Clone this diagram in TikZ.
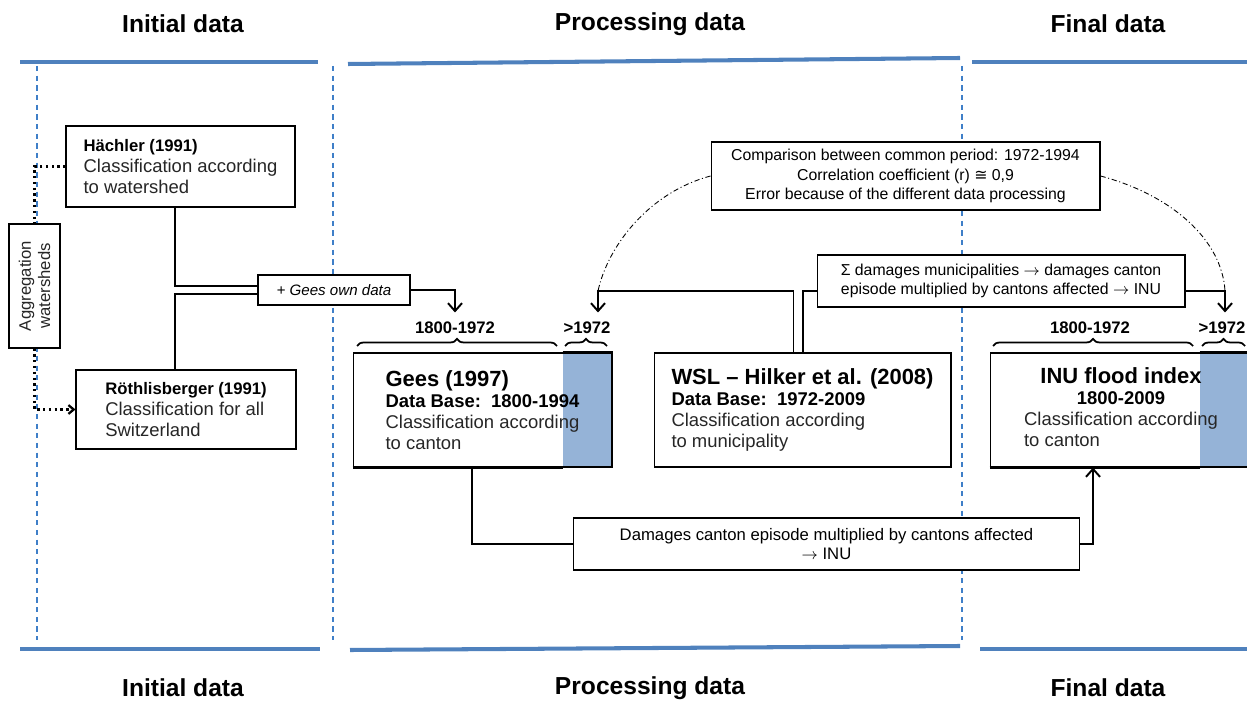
\documentclass[tikz,border=0pt]{standalone}
\usepackage{fontspec}
\setmainfont{Liberation Sans}
\newfontfamily\symfont{DejaVu Sans}
\usetikzlibrary{arrows.meta,decorations.pathreplacing,backgrounds}

\definecolor{bandblue}{HTML}{4F81BD}
\definecolor{fillblue}{HTML}{95B3D7}
\definecolor{sepblue}{HTML}{3F7FC8}

\newcommand{\fsz}[2]{\fontsize{#1}{#2}\selectfont}

\begin{document}
\begin{tikzpicture}[x=0.02cm, y=-0.02cm,
  box/.style={draw, line width=0.6pt, align=left, inner sep=0pt,
    font=\fsz{10.5}{12}, text=black!85},
  wbox/.style={box, fill=white},
  note/.style={draw, fill=white, line width=0.6pt, align=center,
    inner sep=2pt, font=\fsz{9}{11}},
  head/.style={font=\fsz{14}{16}\bfseries},
  yr/.style={font=\fsz{9.5}{11}\bfseries, inner sep=1pt},
  band/.style={bandblue, line width=2.3pt},
  sep/.style={sepblue, line width=0.7pt, dash pattern=on 3pt off 2.5pt},
  conn/.style={line width=1.1pt, >={Straight Barb[length=4.5pt,width=8pt]}},
  dotline/.style={line width=1.3pt, dotted, >={Straight Barb[length=3pt,width=5pt]}},
  dd/.style={line width=0.5pt, dash pattern=on 3pt off 1.5pt on 0.6pt off 1.5pt},
  brc/.style={line width=1pt, decorate, decoration={brace, amplitude=4pt}},
]
\useasboundingbox (0,0) rectangle (1247,702);

% Column headers
\node[head] (hI)  at (183,24)  {Initial data};
\node[head] (hP)  at (650,24)  {Processing data};
\node[head] (hF)  at (1108,24) {Final data};
\node[head] (fI)  at (183,688) {Initial data};
\node[head] (fP)  at (650,688) {Processing data};
\node[head] (fF)  at (1108,688) {Final data};

% Bands and separators
\draw[band] (20,62) -- (318,62);
\draw[band] (348,64) -- (960,58);
\draw[band] (972,62) -- (1247,62);
\draw[band] (20,649) -- (320,649);
\draw[band] (350,650) -- (960,646);
\draw[band] (980,649) -- (1247,649);
\draw[sep] (37,66) -- (37,640);
\draw[sep] (333,66) -- (333,640);
\draw[sep] (962,66) -- (962,640);

% Initial data
\node[wbox, minimum width=4.58cm, minimum height=1.62cm] (hach) at (180.5,166.5)
  {{\fsz{9.5}{12}\bfseries\color{black} Hächler (1991)}\\Classification according\\to watershed};
\node[wbox, minimum width=4.4cm, minimum height=1.58cm] (roth) at (186,409.5)
  {{\fsz{9.5}{12}\bfseries\color{black} Röthlisberger (1991)}\\Classification for all\\Switzerland};
\node[wbox, align=center, rotate=90, minimum width=2.48cm, minimum height=1.02cm,
  font=\fsz{9.5}{11}] (agg) at (34.5,286) {Aggregation\\watersheds};
\node[note, font=\fsz{8.6}{10}\itshape, minimum width=3.04cm, minimum height=0.6cm] (gown)
  at (334,290) {+ Gees own data};

% Processing data
\node[box, minimum width=5.18cm, minimum height=2.28cm] (gees) at (482.5,410)
  {{\fsz{12.5}{15}\bfseries\color{black} Gees (1997)}\\{\bfseries\color{black} Data Base:\ \ 1800-1994}\\Classification according\\to canton};
\node[box, minimum width=5.94cm, minimum height=2.28cm] (wsl) at (802.5,410)
  {{\fsz{12.5}{15}\bfseries\color{black} WSL -- Hilker et al. (2008)}\\{\bfseries\color{black} Data Base:\ \ 1972-2009}\\Classification according\\to municipality};
\node[note, minimum width=7.78cm, minimum height=1.36cm] (comp) at (905.5,176)
  {Comparison between common period: 1972-1994\\Correlation coefficient (r) {\symfont ≅} 0,9\\Error because of the different data processing};
\node[note, minimum width=7.36cm, minimum height=1.04cm] (sig) at (1001,281)
  {Σ damages municipalities $\rightarrow$ damages canton\\episode multiplied by cantons affected $\rightarrow$ INU};
\node[note, font=\fsz{9.5}{11}, minimum width=10.14cm, minimum height=1.04cm] (dmg) at (826.5,544)
  {Damages canton episode multiplied by cantons affected\\$\rightarrow$ INU};

% Final data
\node[box, minimum width=5.24cm, minimum height=2.28cm] (inu) at (1121,410)
  {\begin{tabular}{@{}l@{}}
   \multicolumn{1}{@{}c@{}}{\fsz{12.5}{15}\bfseries\color{black} INU flood index}\\
   \multicolumn{1}{@{}c@{}}{\bfseries\color{black} 1800-2009}\\
   Classification according\\
   to canton
   \end{tabular}};

% Blue parts after 1972
\begin{scope}[on background layer]
\fill[fillblue] ([xshift=-1cm]gees.south east) rectangle (gees.north east);
\fill[fillblue] ([xshift=-1.06cm]inu.south east) rectangle (inu.north east);
\end{scope}
\draw[line width=2pt] (gees.south west) -- ([xshift=-1cm]gees.south east);
\draw[line width=2pt] ([xshift=-1cm]gees.north east) -- (gees.north east);
\draw[line width=2pt] (inu.south west) -- ([xshift=-1.06cm]inu.south east);
\draw[line width=2pt] ([xshift=-1.06cm]inu.north east) -- (inu.north east);

% Periods
\node[yr] (yrA) at (455,328)  {1800-1972};
\node[yr] (yrB) at (587,328)  {>1972};
\node[yr] (yrC) at (1090,328) {1800-1972};
\node[yr] (yrD) at (1222,328) {>1972};
\draw[brc] (357,346) -- (557,346);
\draw[brc] (565,346) -- (607,346);
\draw[brc] (993,346) -- (1193,346);
\draw[brc] (1202,346) -- (1245,346);

% Connectors
\coordinate (cornB) at (598,291);
\coordinate (cornD) at (1225,291);
\draw[dotline] (hach.west) -| (agg.east);
\draw[dotline,->] (agg.west) |- (roth.west);
\draw[conn] ([xshift=-0.11cm]hach.south) |- ([yshift=0.08cm]gown.west);
\draw[conn] ([xshift=-0.22cm]roth.north) |- ([yshift=-0.08cm]gown.west);
\draw[conn,->] (gown.east) -| ([yshift=0.15cm]yrA.north);
\draw[conn,->] ([xshift=-0.18cm]wsl.north) |- (cornB) -- ([yshift=0.15cm]cornB |- yrB.north);
\draw[conn] ([xshift=0.01cm]wsl.north) |- ([yshift=-0.2cm]sig.west);
\draw[conn,->] ([yshift=-0.2cm]sig.east) -| ([yshift=0.15cm]cornD |- yrD.north);
\draw[conn] ([xshift=-0.21cm]gees.south) |- (dmg.west);
\draw[conn,->] (dmg.east) -| ([xshift=-0.56cm]inu.south);

% Comparison links
\draw[dd] (comp.west) .. controls (650,192) and (608,245) .. (cornB);
\draw[dd] (comp.east) .. controls (1172,195) and (1222,240) .. (cornD);
\end{tikzpicture}
\end{document}
